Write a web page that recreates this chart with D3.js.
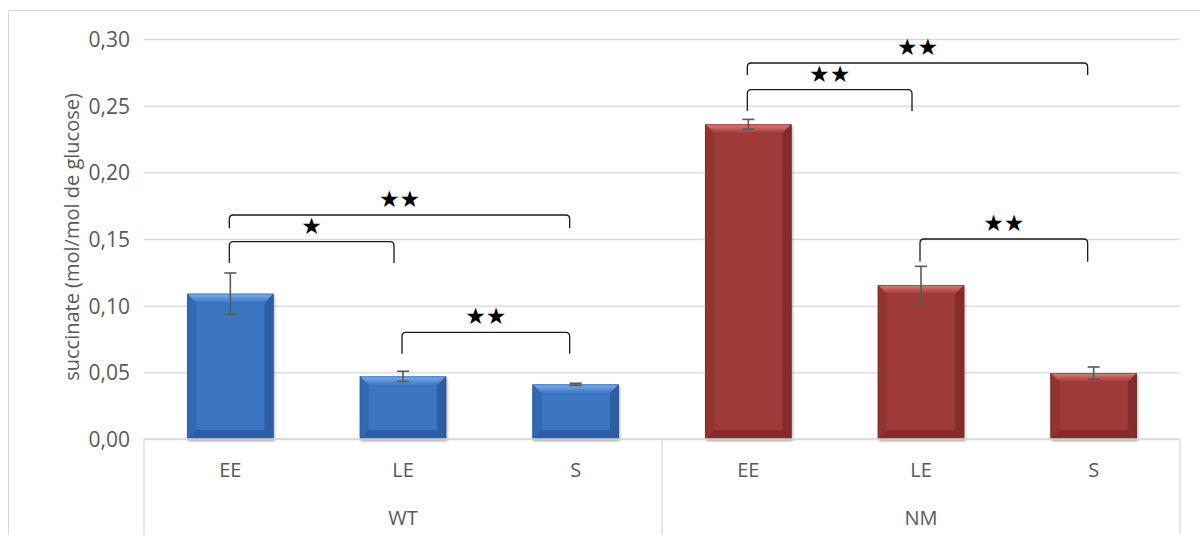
<!DOCTYPE html>
<html><head><meta charset="utf-8">
<script src="https://cdn.jsdelivr.net/npm/d3@7/dist/d3.min.js"></script>
<style>body{margin:0;background:#fff;}svg{display:block;}</style>
</head><body>
<svg id="chart" width="1200" height="535"></svg>
<script>
// ---- data ----
const groups = ["WT", "NM"];
const conditions = ["EE", "LE", "S"];
const wtValues = [0.109, 0.047, 0.041];
const wtErrors = [0.0155, 0.0038, 0.0008];
const nmValues = [0.236, 0.1155, 0.0495];
const nmErrors = [0.0037, 0.014, 0.0045];
const yTicks = [0, 0.05, 0.10, 0.15, 0.20, 0.25, 0.30];
const yTitle = "succinate (mol/mol de glucose)";
// significance brackets: group, from condition, to condition, bar level, leg end, label
const sigGroup = ["WT", "WT", "WT", "NM", "NM", "NM"];
const sigFrom = ["EE", "EE", "LE", "EE", "EE", "LE"];
const sigTo = ["LE", "S", "S", "LE", "S", "S"];
const sigLevel = [0.148, 0.168, 0.080, 0.262, 0.282, 0.150];
const sigLegEnd = [0.132, 0.158, 0.064, 0.246, 0.273, 0.133];
const sigLabel = ["★", "★★", "★★", "★★", "★★", "★★"];

(function () {
const rows = [];
groups.forEach((g, gi) => {
  const vals = gi === 0 ? wtValues : nmValues;
  const errs = gi === 0 ? wtErrors : nmErrors;
  conditions.forEach((c, ci) => rows.push({group: g, cond: c, key: g + "|" + c, value: vals[ci], err: errs[ci]}));
});

const svg = d3.select("#chart");
const pL = 144, pR = 1180, pT = 39, pB = 439;
const x = d3.scaleBand().domain(rows.map(d => d.key)).range([pL, pR]).paddingInner(0.5).paddingOuter(0.25);
const y = d3.scaleLinear().domain([0, 0.30]).range([pB, pT]);
const textColor = "#595959";
const font = "'Open Sans', sans-serif";

// outer frame
svg.append("rect").attr("x", 8.5).attr("y", 10.5).attr("width", 1200).attr("height", 600)
  .attr("fill", "none").attr("stroke", "#d9d9d9").attr("stroke-width", 1);

// defs
const defs = svg.append("defs");
const shadow = defs.append("filter").attr("id", "shadow").attr("x", "-20%").attr("y", "-20%").attr("width", "140%").attr("height", "140%");
shadow.append("feGaussianBlur").attr("in", "SourceAlpha").attr("stdDeviation", 1.6).attr("result", "b");
shadow.append("feOffset").attr("in", "b").attr("dx", 1).attr("dy", 1.5).attr("result", "o");
shadow.append("feComponentTransfer").attr("in", "o").attr("result", "s").append("feFuncA").attr("type", "linear").attr("slope", 0.35);
const m = shadow.append("feMerge");
m.append("feMergeNode").attr("in", "s");
m.append("feMergeNode").attr("in", "SourceGraphic");

const palette = {
  WT: {main: "#3a74c2", light: "#7eb0ec", side: "#3269b3", dark: "#2d5ea3", edge: "#2a5595"},
  NM: {main: "#9e3a38", light: "#e07d79", side: "#913432", dark: "#832d2b", edge: "#6e2321"}
};
Object.keys(palette).forEach(k => {
  const lg = defs.append("linearGradient").attr("id", "top" + k).attr("x1", 0).attr("y1", 0).attr("x2", 0).attr("y2", 1);
  lg.append("stop").attr("offset", 0).attr("stop-color", palette[k].light);
  lg.append("stop").attr("offset", 1).attr("stop-color", palette[k].main);
});

// grid
const yAxis = d3.axisLeft(y).tickValues(yTicks).tickSize(-(pR - pL)).tickPadding(14)
  .tickFormat(d => d3.format(".2f")(d).replace(".", ","));
const ga = svg.append("g").attr("transform", `translate(${pL},0)`).call(yAxis);
ga.select(".domain").remove();
ga.selectAll(".tick line").attr("stroke", "#d9d9d9").attr("stroke-width", 1.3);
ga.selectAll(".tick text").attr("fill", textColor).style("font-family", font).style("font-size", "21px").attr("dy", "0.35em");

// y title
svg.append("text").attr("transform", `translate(72,${(pT + pB) / 2 - 2}) rotate(-90)`)
  .attr("text-anchor", "middle").attr("dy", "0.35em")
  .attr("fill", textColor).style("font-family", font).style("font-size", "20px").text(yTitle);

// category box lines
const boxBottom = 540;
const groupBounds = [pL, (pL + pR) / 2, pR];
groupBounds.forEach(b => {
  svg.append("line").attr("x1", b).attr("x2", b).attr("y1", pB).attr("y2", boxBottom)
    .attr("stroke", "#d9d9d9").attr("stroke-width", 1.3);
});

// bars
const bw = x.bandwidth();
const bev = 9;
const barG = svg.selectAll(".bar").data(rows).join("g").attr("class", "bar");
barG.each(function(d) {
  const g = d3.select(this);
  const p = palette[d.group];
  const x0 = x(d.key), x1 = x0 + bw, y0 = y(d.value), y1 = y(0);
  const b = Math.min(bev, (y1 - y0) / 2);
  g.append("rect").attr("x", x0).attr("y", y0).attr("width", bw).attr("height", y1 - y0)
    .attr("fill", p.main).attr("filter", "url(#shadow)");
  g.append("path").attr("d", `M${x0},${y0}L${x1},${y0}L${x1 - b},${y0 + b}L${x0 + b},${y0 + b}Z`).attr("fill", `url(#top${d.group})`);
  g.append("path").attr("d", `M${x0},${y0}L${x0 + b},${y0 + b}L${x0 + b},${y1 - b}L${x0},${y1}Z`).attr("fill", p.side);
  g.append("path").attr("d", `M${x1},${y0}L${x1},${y1}L${x1 - b},${y1 - b}L${x1 - b},${y0 + b}Z`).attr("fill", p.dark);
  g.append("path").attr("d", `M${x0},${y1}L${x1},${y1}L${x1 - b},${y1 - b}L${x0 + b},${y1 - b}Z`).attr("fill", p.dark);
  g.append("rect").attr("x", x0 + 0.5).attr("y", y0 + 0.5).attr("width", bw - 1).attr("height", y1 - y0 - 1)
    .attr("fill", "none").attr("stroke", p.edge).attr("stroke-opacity", 0.5).attr("stroke-width", 1);
});

// baseline over bars
svg.append("line").attr("x1", pL).attr("x2", pR).attr("y1", pB).attr("y2", pB)
  .attr("stroke", "#d9d9d9").attr("stroke-width", 1.3);

// error bars
const eb = svg.selectAll(".err").data(rows).join("g").attr("class", "err").attr("stroke", "#595959").attr("stroke-width", 1.6);
eb.append("line").attr("x1", d => x(d.key) + bw / 2).attr("x2", d => x(d.key) + bw / 2)
  .attr("y1", d => y(d.value + d.err)).attr("y2", d => y(d.value - d.err));
eb.append("line").attr("x1", d => x(d.key) + bw / 2 - 6).attr("x2", d => x(d.key) + bw / 2 + 6)
  .attr("y1", d => y(d.value + d.err)).attr("y2", d => y(d.value + d.err));
eb.append("line").attr("x1", d => x(d.key) + bw / 2 - 6).attr("x2", d => x(d.key) + bw / 2 + 6)
  .attr("y1", d => y(d.value - d.err)).attr("y2", d => y(d.value - d.err));

// category labels
svg.selectAll(".cat").data(rows).join("text").attr("class", "cat")
  .attr("x", d => x(d.key) + bw / 2).attr("y", 470).attr("dy", "0.35em").attr("text-anchor", "middle")
  .attr("fill", textColor).style("font-family", font).style("font-size", "20px").text(d => d.cond);
svg.selectAll(".grp").data(groups).join("text").attr("class", "grp")
  .attr("x", (d, i) => (groupBounds[i] + groupBounds[i + 1]) / 2).attr("y", 518).attr("dy", "0.35em").attr("text-anchor", "middle")
  .attr("fill", textColor).style("font-family", font).style("font-size", "20px").text(d => d);

// significance brackets
const r = 4;
sigLabel.forEach((lab, i) => {
  const xa = x(sigGroup[i] + "|" + sigFrom[i]) + bw / 2 - 1;
  const xb = x(sigGroup[i] + "|" + sigTo[i]) + bw / 2 - (sigTo[i] === "LE" ? 9 : 6);
  const yl = y(sigLevel[i]), ye = y(sigLegEnd[i]);
  svg.append("path").attr("d",
    `M${xa},${ye}L${xa},${yl + r}Q${xa},${yl} ${xa + r},${yl}L${xb - r},${yl}Q${xb},${yl} ${xb},${yl + r}L${xb},${ye}`)
    .attr("fill", "none").attr("stroke", "#1a1a1a").attr("stroke-width", 1.3);
  svg.append("text").attr("x", (xa + xb) / 2).attr("y", yl - 16).attr("dy", "0.35em").attr("text-anchor", "middle")
    .attr("fill", "#000").style("font-family", "'DejaVu Sans', sans-serif").style("font-size", "23px").text(lab);
});
})();
</script>
</body></html>
